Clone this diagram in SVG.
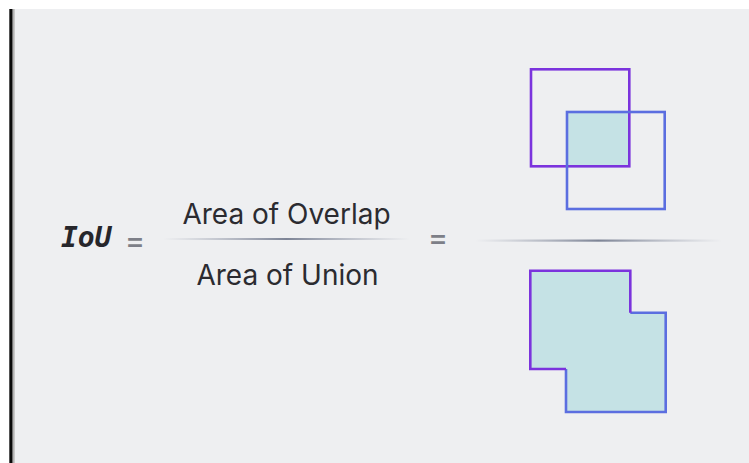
<svg xmlns="http://www.w3.org/2000/svg" width="749" height="463" viewBox="0 0 749 463">
  <style>
    .txt { font-family: Inter, "Noto Sans", "Liberation Sans", sans-serif; fill: #2b2b30; font-size: 28px; }
    .eq { font-family: Inter, "Noto Sans", "Liberation Sans", sans-serif; fill: #7d7f88; font-size: 30px; font-weight: 500; }
    .iou { font-family: "DejaVu Sans Mono", "Liberation Mono", monospace; font-weight: bold; font-style: italic; font-size: 28px; fill: #26262b; }
    .purple { fill: none; stroke: #7b33dd; stroke-width: 2.6; }
    .blue { fill: none; stroke: #5b6ee0; stroke-width: 2.6; }
    .fillc { fill: #c5e2e5; }
  </style>
  <defs>
    <linearGradient id="lineg" x1="0" y1="0" x2="1" y2="0">
      <stop offset="0" stop-color="#9aa0b0" stop-opacity="0"/>
      <stop offset="0.5" stop-color="#7d8496" stop-opacity="1"/>
      <stop offset="1" stop-color="#9aa0b0" stop-opacity="0"/>
    </linearGradient>
  </defs>
  <rect x="0" y="0" width="749" height="463" fill="#ffffff"/>
  <rect x="14.7" y="9" width="734.3" height="454" fill="#eeeff1"/>
  <rect x="9.3" y="9" width="3.4" height="454" fill="#0a0a0a"/>
  <rect x="12.7" y="9" width="2" height="454" fill="#b4b4b4"/>

  <g id="formula">
    <text class="iou" x="61" y="247">IoU</text>
    <text class="eq" x="135" y="251" text-anchor="middle">=</text>
    <text class="txt" x="286.5" y="223.5" text-anchor="middle">Area of Overlap</text>
    <rect x="163" y="238" width="247" height="2" fill="url(#lineg)"/>
    <text class="txt" x="287.5" y="284.5" text-anchor="middle">Area of Union</text>
    <text class="eq" x="438" y="248" text-anchor="middle">=</text>
    <rect x="475" y="239.5" width="247" height="2.2" fill="url(#lineg)"/>
  </g>

  <g id="overlap">
    <rect class="fillc" x="567" y="112" width="62" height="54.3"/>
    <rect class="purple" x="531" y="69.3" width="98.3" height="97"/>
    <rect class="blue" x="567" y="112" width="97.7" height="97"/>
  </g>

  <g id="union">
    <path class="fillc" d="M530.3 270.7 H630.3 V312.7 H665.7 V412 H566 V369 H530.3 Z"/>
    <path class="blue" d="M630.3 312.7 H665.7 V412 H566 V369"/>
    <path class="purple" d="M566 369 H530.3 V270.7 H630.3 V312.7"/>
  </g>
</svg>
